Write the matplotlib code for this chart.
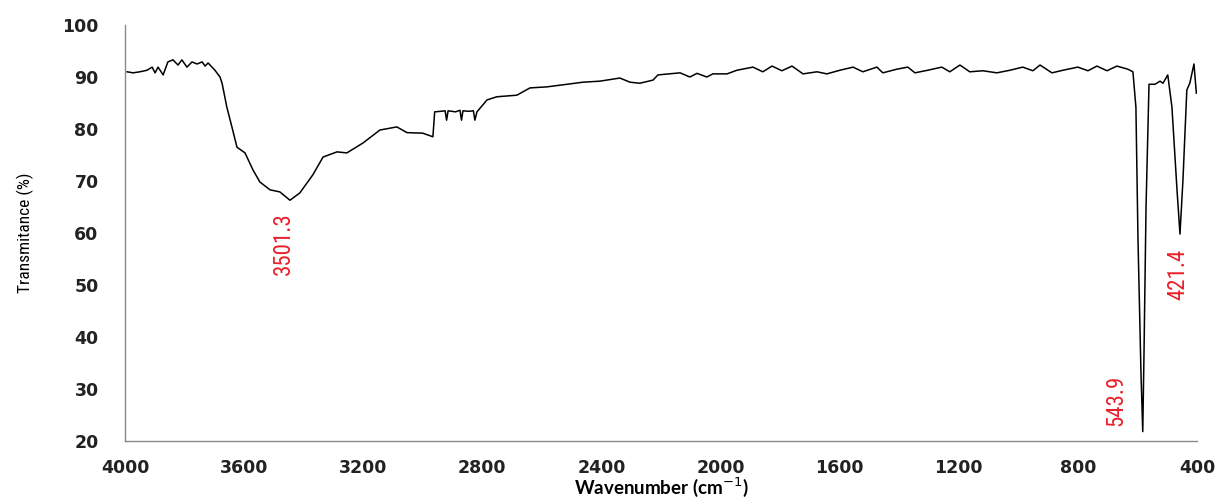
import matplotlib
matplotlib.use('Agg')
import matplotlib.pyplot as plt
from matplotlib import font_manager
import numpy as np

# FTIR spectrum (wavenumber in cm-1, transmittance in %)
wavenumber = [
    3993, 3973, 3950, 3926, 3909, 3899, 3889, 3872, 3856, 3839, 3822, 3809,
    3792, 3775, 3758, 3741, 3731, 3721, 3698, 3681, 3674, 3658, 3641, 3624,
    3597, 3570, 3547, 3513, 3480, 3446, 3413, 3369, 3335, 3288, 3255, 3201,
    3144, 3087, 3053, 3000, 2966, 2960, 2940, 2925, 2920, 2915, 2890, 2875,
    2870, 2865, 2845, 2830, 2825, 2818, 2784, 2751, 2684, 2640, 2583, 2529,
    2462, 2405, 2338, 2304, 2271, 2227, 2210, 2136, 2103, 2079, 2046, 2026,
    1978, 1945, 1891, 1858, 1827, 1794, 1760, 1723, 1676, 1643, 1599, 1555,
    1522, 1475, 1455, 1408, 1371, 1347, 1304, 1257, 1230, 1196, 1163, 1119,
    1072, 1028, 985, 951, 927, 887, 850, 800, 766, 736, 702, 669, 632, 615,
    605, 598, 588, 582, 578, 571, 561, 541, 524, 514, 498, 484, 467, 457,
    447, 434, 424, 410, 402,
]
transmittance = [
    91.0, 90.8, 91.0, 91.3, 91.9, 90.8, 91.9, 90.4, 92.9, 93.3, 92.3, 93.3,
    91.9, 92.9, 92.5, 92.9, 92.1, 92.7, 91.3, 90.0, 88.8, 84.2, 80.4, 76.5,
    75.4, 72.1, 69.8, 68.3, 67.9, 66.3, 67.7, 71.2, 74.6, 75.6, 75.4, 77.3,
    79.8, 80.4, 79.3, 79.2, 78.5, 83.3, 83.4, 83.5, 81.7, 83.5, 83.3, 83.6,
    81.7, 83.5, 83.4, 83.5, 81.7, 83.3, 85.6, 86.2, 86.5, 87.9, 88.1, 88.5,
    89.0, 89.2, 89.8, 89.0, 88.8, 89.4, 90.4, 90.8, 90.0, 90.7, 90.0, 90.6,
    90.6, 91.3, 91.9, 91.0, 92.1, 91.2, 92.1, 90.6, 91.0, 90.6, 91.3, 91.9,
    91.0, 91.9, 90.8, 91.5, 91.9, 90.8, 91.3, 91.9, 91.0, 92.3, 91.0, 91.2,
    90.8, 91.3, 91.9, 91.2, 92.3, 90.8, 91.3, 91.9, 91.2, 92.1, 91.2, 92.1, 91.5, 91.0,
    84.2, 58.7, 33.1, 21.8, 36.2, 65.0, 88.6, 88.6, 89.2, 88.8, 90.4, 84.2, 68.3, 59.8,
    70.2, 87.5, 88.8, 92.5, 86.9,
]

peak_labels = ['3501.3', '543.9', '421.4']
peak_x = [3469, 672, 464]
peak_y = [57.9, 27.8, 52.1]

xticks = [4000, 3600, 3200, 2800, 2400, 2000, 1600, 1200, 800, 400]
yticks = [20, 30, 40, 50, 60, 70, 80, 90, 100]

# pick a condensed face if one is installed
names = {f.name for f in font_manager.fontManager.ttflist}
narrow = [n for n in ['Liberation Sans Narrow', 'DejaVu Sans Condensed', 'Roboto Condensed']
          if n in names] + ['DejaVu Sans']
label_font = ['Lato', 'DejaVu Sans']

fig = plt.figure(figsize=(12.22, 4.98), dpi=100)
ax = fig.add_axes([0.1023, 0.1145, 0.8772, 0.8353])

ax.plot(wavenumber, transmittance, color='black', linewidth=1.1)

for lab, x, y in zip(peak_labels, peak_x, peak_y):
    ax.text(x, y, lab, color='#e8202a', rotation=90, ha='center', va='center',
            fontsize=16.5, family=narrow)

ax.set_xlim(4000, 400)
ax.set_ylim(20, 100)
ax.set_xticks(xticks)
ax.set_yticks(yticks)
ax.tick_params(length=0, labelsize=12.5)
ax.tick_params(axis='x', pad=13)
ax.tick_params(axis='y', pad=19)
for lbl in ax.get_xticklabels() + ax.get_yticklabels():
    lbl.set_fontweight('bold')
    lbl.set_color('#222222')

for side in ['top', 'right']:
    ax.spines[side].set_visible(False)
for side in ['left', 'bottom']:
    ax.spines[side].set_color('#8a8a8a')
    ax.spines[side].set_linewidth(1.0)

ax.set_ylabel('Transmitance (%)', family=narrow, fontsize=12.5, labelpad=20)
ax.set_xlabel('Wavenumber (cm$^{-1}$)', family=label_font, fontsize=13.5,
              fontweight='bold', labelpad=-1)

fig.savefig('out.png', dpi=100)
